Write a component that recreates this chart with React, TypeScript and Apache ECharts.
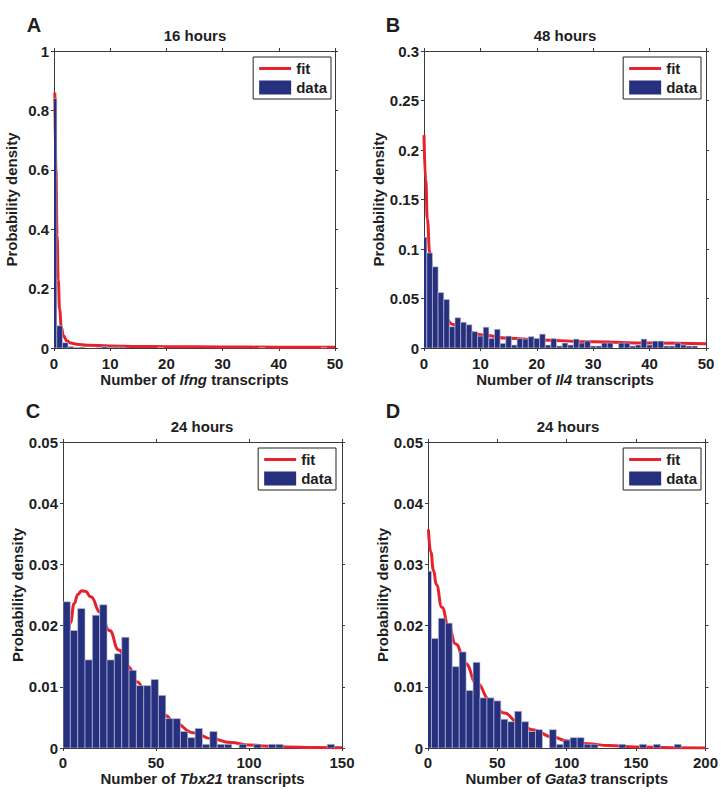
import React, { useEffect, useRef } from "react";
import * as echarts from "echarts";

const FONT = '"Liberation Sans", Arial, Helvetica, sans-serif';
const NAVY = "#27307e";
const RED = "#e6222d";
const INK = "#1e1e1e";
const AXIS = "#3a3a3a";

// ---- Panel A: Ifng, 16 hours (bins of width 1 centred on 0..49)
const ifngDensity = [
  0.84, 0.075, 0.018, 0.005, 0.002, 0.003, 0, 0, 0.001, 0.005,
  0.002, 0.003, 0.003, 0, 0, 0, 0, 0, 0, 0.002,
  0, 0, 0, 0, 0, 0, 0, 0, 0, 0,
  0, 0, 0, 0, 0, 0, 0, 0.002, 0, 0,
  0, 0, 0, 0, 0, 0, 0, 0, 0.002, 0,
];
const ifngFit = [
  [0.15, 0.86], [0.35, 0.6], [0.55, 0.38], [0.75, 0.23], [1.0, 0.13], [1.3, 0.07],
  [1.7, 0.04], [2.3, 0.024], [3, 0.017], [4, 0.013], [6, 0.0095], [10, 0.0068],
  [15, 0.0052], [20, 0.0043], [30, 0.0033], [40, 0.0027], [50, 0.0023],
];

// ---- Panel B: Il4, 48 hours (bins of width 1 centred on 0..49)
const il4Density = [
  0.112, 0.096, 0.082, 0.056, 0.049, 0.0215, 0.0306, 0.026, 0.0235, 0.0165,
  0.012, 0.021, 0.0098, 0.0189, 0.0047, 0.012, 0.003, 0.0095, 0.009, 0.0115,
  0.0095, 0.014, 0.003, 0.0095, 0.002, 0.005, 0.003, 0.009, 0.005, 0.007,
  0.002, 0.002, 0.005, 0.005, 0, 0.005, 0.005, 0.002, 0.003, 0.009,
  0.003, 0.007, 0.007, 0.002, 0.002, 0.005, 0.003, 0.002, 0.002, 0,
];
const il4Fit = [
  [0, 0.215], [0.3, 0.17], [0.6, 0.13], [1, 0.097], [1.5, 0.072], [2, 0.056],
  [3, 0.038], [4, 0.029], [5, 0.024], [7, 0.018], [10, 0.0135], [15, 0.0098],
  [20, 0.0082], [30, 0.0062], [40, 0.005], [50, 0.0043],
];

// ---- Panel C: Tbx21, 24 hours (37 bins spanning 0..146)
const tbx21Density = [
  0.0239, 0.0192, 0.0228, 0.0144, 0.0217, 0.0234, 0.0144, 0.0154, 0.0181, 0.0127,
  0.0102, 0.0102, 0.0112, 0.0086, 0.0048, 0.0048, 0.0027, 0.0017, 0.0032, 0.0006,
  0.0027, 0.0006, 0.0006, 0, 0.0006, 0, 0.0006, 0, 0.0006, 0.0006,
  0, 0, 0, 0, 0, 0, 0.0006,
];
const tbx21Fit = [
  [2, 0.015], [4, 0.0205], [6, 0.0236], [8, 0.0251], [10, 0.0257], [12, 0.0256],
  [15, 0.0247], [20, 0.0222], [25, 0.0192], [30, 0.016], [35, 0.0133], [40, 0.0108],
  [45, 0.0086], [50, 0.0068], [55, 0.0053], [60, 0.0041], [70, 0.0025], [80, 0.0015],
  [90, 0.0009], [100, 0.0005], [110, 0.0003], [120, 0.00018], [135, 0.00008], [150, 0.00004],
];

// ---- Panel D: Gata3, 24 hours (bins of width 5 centred on 0, 5, ..., 180)
const gata3Density = [
  0.0289, 0.0179, 0.0212, 0.0204, 0.0133, 0.0157, 0.0094, 0.014, 0.0082, 0.0082,
  0.0077, 0.0047, 0.0043, 0.006, 0.0043, 0.0027, 0.003, 0, 0.003, 0.0006,
  0.0013, 0.0017, 0.0017, 0.0006, 0.0006, 0, 0, 0, 0.0006, 0,
  0, 0.0006, 0, 0.0006, 0, 0, 0.0006,
];
const gata3Fit = [
  [0.3, 0.0357], [2, 0.032], [4, 0.029], [6, 0.0267], [10, 0.023], [15, 0.0197],
  [20, 0.017], [27, 0.0138], [35, 0.0106], [45, 0.0078], [55, 0.0057], [65, 0.0042],
  [75, 0.003], [90, 0.0018], [100, 0.0012], [115, 0.0007], [130, 0.0004],
  [150, 0.00017], [175, 0.00006], [200, 0.00002],
];

const titles = ["16 hours", "48 hours", "24 hours", "24 hours"];
const letters = ["A", "B", "C", "D"];
const genes = ["Ifng", "Il4", "Tbx21", "Gata3"];

// bins as [start, end, density]
function centred(values: number[], width: number) {
  return values
    .map((v, i) => [i * width - width / 2, i * width + width / 2, v])
    .filter((d) => d[2] > 0);
}
function edged(values: number[], width: number) {
  return values
    .map((v, i) => [i * width, (i + 1) * width, v])
    .filter((d) => d[2] > 0);
}

const panels = [
  {
    bins: centred(ifngDensity, 1), fit: ifngFit,
    grid: { left: 54, top: 51, width: 281, height: 297 },
    xMax: 50, xInt: 10, yMax: 1, yInt: 0.2,
    yGap: 35, xLabelMargin: 8, xNameGap: 23,
    legend: { right: 390, top: 57 },
    letterPos: [34, 25], titlePos: [195, 35],
  },
  {
    bins: centred(il4Density, 1), fit: il4Fit,
    grid: { left: 424, top: 51, width: 282, height: 297 },
    xMax: 50, xInt: 10, yMax: 0.3, yInt: 0.05,
    yGap: 36, xLabelMargin: 8, xNameGap: 23,
    legend: { right: 20, top: 57 },
    letterPos: [393, 25], titlePos: [565, 35],
  },
  {
    bins: edged(tbx21Density, 146 / 37), fit: tbx21Fit,
    grid: { left: 63, top: 442, width: 279, height: 306 },
    xMax: 150, xInt: 50, yMax: 0.05, yInt: 0.01,
    yGap: 38, xLabelMargin: 7, xNameGap: 23,
    legend: { right: 385, top: 448 },
    letterPos: [33, 411], titlePos: [202, 426],
  },
  {
    bins: centred(gata3Density, 5), fit: gata3Fit,
    grid: { left: 428, top: 442, width: 279, height: 306 },
    xMax: 200, xInt: 50, yMax: 0.05, yInt: 0.01,
    yGap: 38, xLabelMargin: 7, xNameGap: 23,
    legend: { right: 20, top: 448 },
    letterPos: [393, 411], titlePos: [568, 426],
  },
];

const labelStyle = { fontFamily: FONT, fontWeight: "bold" as const, fontSize: 15, color: INK };

function renderBar(params: any, api: any) {
  const tl = api.coord([api.value(0), api.value(2)]);
  const br = api.coord([api.value(1), 0]);
  return {
    type: "rect",
    shape: { x: tl[0], y: tl[1], width: br[0] - tl[0], height: br[1] - tl[1] },
    style: { fill: NAVY, stroke: "#c3c6d6", lineWidth: 0.6 },
  };
}

export default function App() {
  const ref = useRef<HTMLDivElement>(null);
  useEffect(() => {
    if (!ref.current) return;
    const chart = echarts.init(ref.current, null, { renderer: "svg" });
    const xAxis: any[] = [];
    const yAxis: any[] = [];
    const series: any[] = [];
    const axisLine = { show: true, onZero: false, lineStyle: { color: AXIS, width: 1 } };
    const axisTick = { show: true, inside: false, length: 3, lineStyle: { color: AXIS, width: 1 } };
    panels.forEach((p, i) => {
      xAxis.push({
        type: "value", gridIndex: i, position: "bottom", min: 0, max: p.xMax, interval: p.xInt,
        name: `Number of {it|${genes[i]}} transcripts`, nameLocation: "middle", nameGap: p.xNameGap,
        nameTextStyle: {
          ...labelStyle,
          rich: { it: { fontFamily: FONT, fontWeight: "bold", fontStyle: "italic", fontSize: 15, color: INK } },
        },
        axisLine, axisTick,
        axisLabel: { ...labelStyle, margin: p.xLabelMargin },
        splitLine: { show: false },
      });
      xAxis.push({
        type: "value", gridIndex: i, position: "top", min: 0, max: p.xMax, interval: p.xInt,
        axisLine, axisTick, axisLabel: { show: false }, splitLine: { show: false },
      });
      yAxis.push({
        type: "value", gridIndex: i, position: "left", min: 0, max: p.yMax, interval: p.yInt,
        name: "Probability density", nameLocation: "middle", nameGap: p.yGap, nameRotate: 90,
        nameTextStyle: { ...labelStyle },
        axisLine, axisTick,
        axisLabel: { ...labelStyle, margin: 5 },
        splitLine: { show: false },
      });
      yAxis.push({
        type: "value", gridIndex: i, position: "right", min: 0, max: p.yMax, interval: p.yInt,
        axisLine, axisTick, axisLabel: { show: false }, splitLine: { show: false },
      });
      series.push({
        type: "line", name: "fit", xAxisIndex: 2 * i, yAxisIndex: 2 * i,
        data: p.fit, symbol: "none", showSymbol: false, smooth: true, smoothMonotone: "x", clip: true,
        lineStyle: { color: RED, width: 3 }, itemStyle: { color: RED }, z: 2, silent: true,
      });
      series.push({
        type: "custom", name: "data", xAxisIndex: 2 * i, yAxisIndex: 2 * i,
        data: p.bins, encode: { x: [0, 1], y: 2 }, renderItem: renderBar, clip: true,
        itemStyle: { color: NAVY }, z: 3, silent: true,
      });
    });

    const graphic: any[] = [];
    panels.forEach((p, i) => {
      graphic.push({
        type: "text", x: p.titlePos[0], y: p.titlePos[1],
        style: { text: titles[i], fill: INK, font: `bold 15px ${FONT}`, align: "center", verticalAlign: "middle" },
      });
      graphic.push({
        type: "text", x: p.letterPos[0], y: p.letterPos[1],
        style: { text: letters[i], fill: INK, font: `bold 20px ${FONT}`, align: "center", verticalAlign: "middle" },
      });
    });

    chart.setOption({
      animation: false,
      backgroundColor: "#ffffff",
      grid: panels.map((p) => ({ ...p.grid, containLabel: false })),
      xAxis,
      yAxis,
      series,
      legend: panels.map((p) => ({
        orient: "vertical", right: p.legend.right, top: p.legend.top,
        data: [
          { name: "fit", icon: "path://M0,0H32V3H0Z", itemStyle: { color: RED, borderWidth: 0 } },
          { name: "data", icon: "rect", itemStyle: { color: NAVY, borderWidth: 0 } },
        ],
        itemWidth: 32, itemHeight: 14, itemGap: 4, padding: [4, 4, 4, 6],
        borderColor: "#222", borderWidth: 1, backgroundColor: "#ffffff",
        textStyle: { ...labelStyle }, selectedMode: false,
      })),
      graphic,
    });
    return () => chart.dispose();
  }, []);
  return (
    <div
      ref={ref}
      style={{ position: "fixed", left: 0, top: 0, width: 721, height: 799, background: "#fff" }}
    />
  );
}
